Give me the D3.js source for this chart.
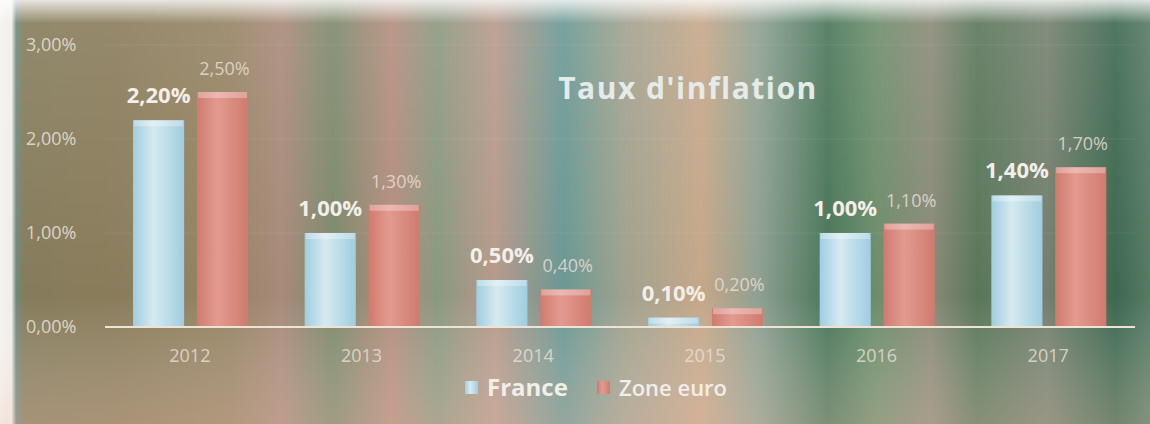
<!DOCTYPE html>
<html>
<head>
<meta charset="utf-8">
<script src="https://cdn.jsdelivr.net/npm/d3@7"></script>
<style>
  body { margin: 0; background: #fff; }
  svg { display: block; font-family: "Open Sans", "DejaVu Sans", sans-serif; }
</style>
</head>
<body>
<div id="chart"></div>
<script>
const years = ['2012', '2013', '2014', '2015', '2016', '2017'];
const series = ['France', 'Zone euro'];
const france = [2.2, 1.0, 0.5, 0.1, 1.0, 1.4];
const zoneEuro = [2.5, 1.3, 0.4, 0.2, 1.1, 1.7];
const yTicks = [0, 1, 2, 3];

const width = 1150, height = 424;
const colors = {
    France: ['#d6eaf0', '#9fcde0'],
    'Zone euro': ['#e49a90', '#cf7b6e']
};

// background colour bands
const bgStops = [
    [0, '#f4f2ee'], [0.01, '#f0eee8'], [0.014, '#6f8a80'], [0.02, '#857c5c'], [0.1, '#8a7c5b'],
    [0.2, '#968464'], [0.245, '#a88a7a'], [0.29, '#7c896c'], [0.34, '#b38d7d'],
    [0.38, '#8a9880'], [0.43, '#b7998a'], [0.49, '#6a9893'], [0.54, '#9ea18f'],
    [0.61, '#c6a789'], [0.66, '#8ea091'], [0.72, '#4a765a'], [0.76, '#6b8d6a'],
    [0.81, '#8a8a78'], [0.85, '#59775a'], [0.91, '#74806e'], [0.97, '#3d684f'], [1, '#577a63']
];

const rows = years.map((y, i) => ({ year: y, France: france[i], 'Zone euro': zoneEuro[i] }));

const locale = d3.formatLocale({ decimal: ',', thousands: ' ', grouping: [3], currency: ['', ' €'] });
const pct = v => locale.format('.2%')(v / 100);

const svg = d3.select('#chart').append('svg')
    .attr('width', width)
    .attr('height', height);

const defs = svg.append('defs');
const bg = defs.append('linearGradient').attr('id', 'bg')
    .attr('x1', 0).attr('x2', 1).attr('y1', 0).attr('y2', 0);
bgStops.forEach(s => bg.append('stop').attr('offset', s[0]).attr('stop-color', s[1]));

const fade = defs.append('linearGradient').attr('id', 'fade')
    .attr('x1', 0).attr('x2', 0).attr('y1', 0).attr('y2', 1);
fade.append('stop').attr('offset', 0).attr('stop-color', '#fff').attr('stop-opacity', 0.8);
fade.append('stop').attr('offset', 0.055).attr('stop-color', '#fff').attr('stop-opacity', 0.1);
fade.append('stop').attr('offset', 0.7).attr('stop-color', '#fff').attr('stop-opacity', 0);
fade.append('stop').attr('offset', 1).attr('stop-color', '#f2c8b8').attr('stop-opacity', 0.3);

series.forEach((s, i) => {
    const g = defs.append('linearGradient').attr('id', 'bar' + i)
        .attr('x1', 0).attr('x2', 1).attr('y1', 0).attr('y2', 0);
    g.append('stop').attr('offset', 0).attr('stop-color', colors[s][1]);
    g.append('stop').attr('offset', 0.4).attr('stop-color', colors[s][0]);
    g.append('stop').attr('offset', 1).attr('stop-color', colors[s][1]);
});

svg.append('rect').attr('width', width).attr('height', height).attr('fill', 'url(#bg)');
svg.append('rect').attr('width', width).attr('height', height).attr('fill', 'url(#fade)');

const x0 = d3.scaleBand().domain(years).range([104, 1134]);
const x1 = d3.scaleBand().domain(series).range([29, 144]).paddingInner(0.2);
const y = d3.scaleLinear().domain([0, 3]).range([327, 45]);

// faint gridlines
svg.append('g')
    .selectAll('line')
    .data(yTicks.slice(1))
    .join('line')
    .attr('x1', 105).attr('x2', 1135)
    .attr('y1', d => y(d)).attr('y2', d => y(d))
    .attr('stroke', '#fff').attr('stroke-opacity', 0.07);

// y axis labels
const yAxis = svg.append('g')
    .attr('transform', 'translate(26,0)')
    .call(d3.axisLeft(y).tickValues(yTicks).tickFormat(pct).tickSize(0));
yAxis.select('.domain').remove();
yAxis.selectAll('text')
    .attr('text-anchor', 'start')
    .attr('x', 0)
    .attr('font-size', 18)
    .attr('font-family', '"Open Sans", sans-serif')
    .attr('fill', '#e6dfd2')
    .attr('fill-opacity', 0.9);

// bars
const groups = svg.append('g')
    .selectAll('g')
    .data(rows)
    .join('g')
    .attr('transform', d => `translate(${x0(d.year)},0)`);

const bars = groups.selectAll('g')
    .data(d => series.map((s, i) => ({ key: s, idx: i, value: d[s] })))
    .join('g');

bars.append('rect')
    .attr('x', d => x1(d.key))
    .attr('y', d => y(d.value))
    .attr('width', x1.bandwidth())
    .attr('height', d => y(0) - y(d.value))
    .attr('fill', d => `url(#bar${d.idx})`);

bars.append('rect')
    .attr('x', d => x1(d.key) + 1)
    .attr('y', d => y(d.value))
    .attr('width', x1.bandwidth() - 2)
    .attr('height', d => Math.min(6, y(0) - y(d.value)))
    .attr('fill', '#fff')
    .attr('fill-opacity', 0.3);

// value labels
bars.append('text')
    .attr('x', d => x1(d.key) + x1.bandwidth() / 2 + (d.idx === 0 ? 0 : 2))
    .attr('y', d => y(d.value) - 17)
    .attr('text-anchor', 'middle')
    .attr('font-size', d => d.idx === 0 ? 22 : 18)
    .attr('font-weight', d => d.idx === 0 ? 'bold' : 'normal')
    .attr('fill', d => d.idx === 0 ? '#f3efe8' : '#e8ded3')
    .attr('fill-opacity', d => d.idx === 0 ? 1 : 0.85)
    .text(d => pct(d.value));

// baseline
svg.append('line')
    .attr('x1', 105).attr('x2', 1135)
    .attr('y1', y(0)).attr('y2', y(0))
    .attr('stroke', '#eee4d6').attr('stroke-width', 2);

// x axis labels
const xAxis = svg.append('g')
    .attr('transform', `translate(0,${y(0)})`)
    .call(d3.axisBottom(x0).tickSize(0).tickPadding(22));
xAxis.select('.domain').remove();
xAxis.selectAll('text')
    .attr('font-size', 18)
    .attr('font-family', '"Open Sans", sans-serif')
    .attr('fill', '#ebe2d8')
    .attr('fill-opacity', 0.8);

// title
svg.append('text')
    .attr('x', 688).attr('y', 99)
    .attr('text-anchor', 'middle')
    .attr('font-size', 30)
    .attr('font-weight', 'bold')
    .attr('letter-spacing', 1.5)
    .attr('fill', '#e4ebe8')
    .text("Taux d'inflation");

// legend
const legendX = [465, 597];
const legendSize = [24, 22];
const legend = svg.append('g')
    .selectAll('g')
    .data(series)
    .join('g')
    .attr('transform', (d, i) => `translate(${legendX[i]},396)`);
legend.append('rect')
    .attr('x', 0).attr('y', -15)
    .attr('width', 13).attr('height', 13)
    .attr('fill', (d, i) => `url(#bar${i})`);
legend.append('text')
    .attr('x', 22).attr('y', 0)
    .attr('font-size', (d, i) => legendSize[i])
    .attr('font-weight', (d, i) => i === 0 ? 'bold' : 600)
    .attr('fill', '#f2eee8')
    .text(d => d);
</script>
</body>
</html>
